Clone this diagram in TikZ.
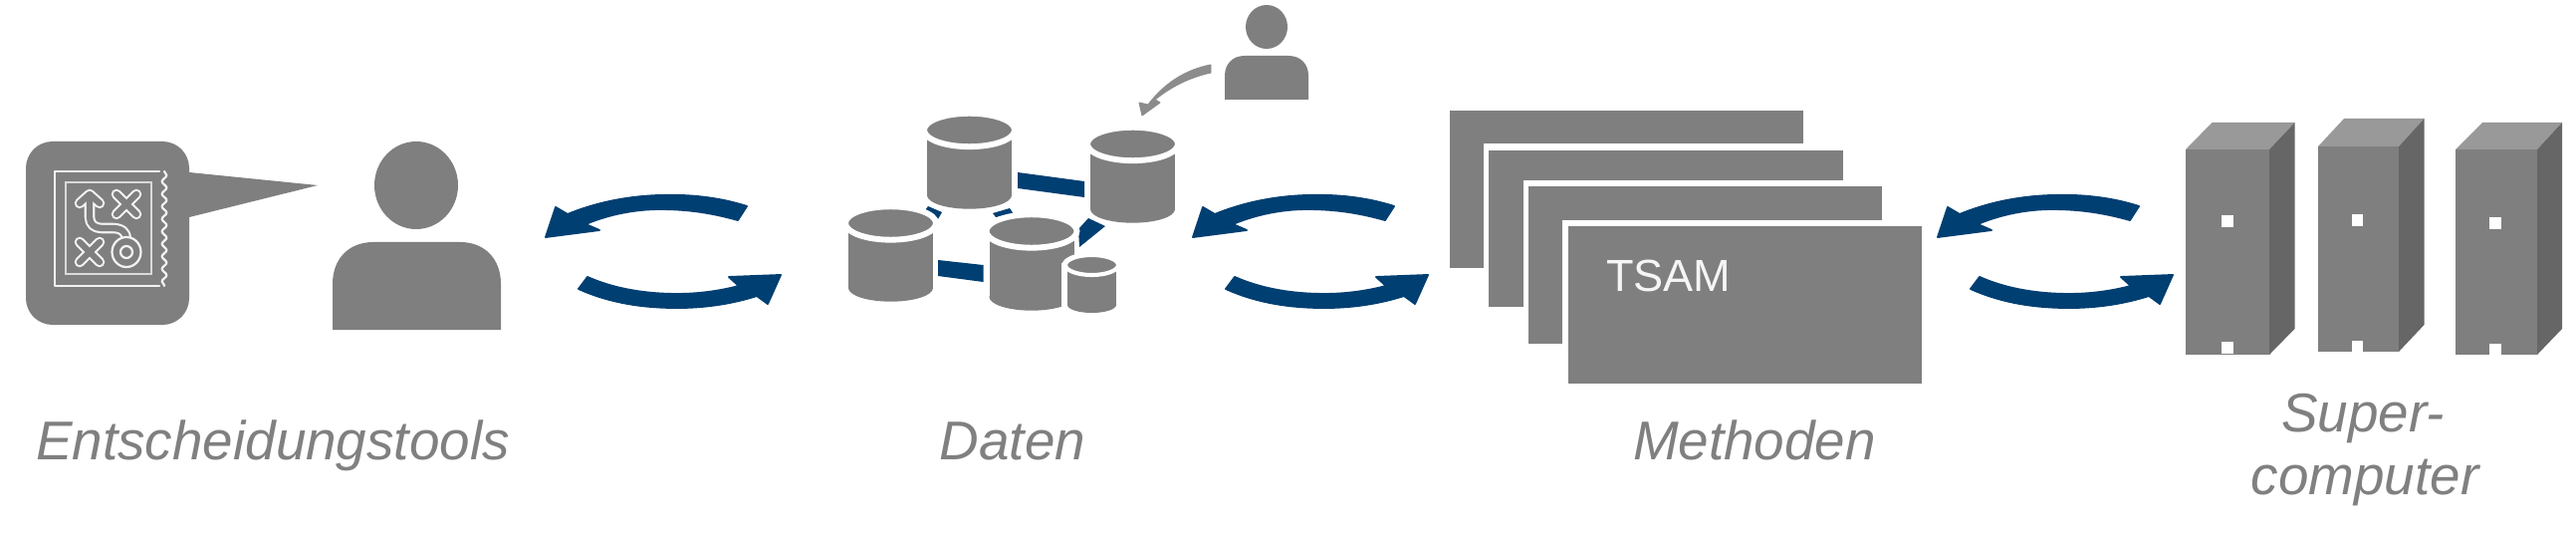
\documentclass[tikz,border=0pt]{standalone}
\usepackage{fontspec}
\setmainfont{Liberation Sans}
\usetikzlibrary{decorations.pathmorphing}
\definecolor{icongray}{HTML}{7F7F7F}
\definecolor{toplight}{HTML}{999999}
\definecolor{sidedark}{HTML}{666666}
\definecolor{flowblue}{HTML}{003F72}
\definecolor{labelgray}{HTML}{808080}
\definecolor{pointergray}{HTML}{8C8C8C}
\tikzset{
  icon/.style={fill=icongray,draw=none},
  flow/.style={fill=flowblue,draw=none},
  flowcurve/.style={fill=flowblue,draw=flowblue,line width=1.6pt,line join=round},
  lbl/.style={inner sep=0pt,anchor=base,text=labelgray,font=\fontsize{46.8}{56}\selectfont\itshape},
  halo/.style={fill=white,draw=none},
  stampline/.style={draw=white!90!icongray,line width=1.9pt,line cap=round,line join=round},
  stampfat/.style={draw=white!90!icongray,line width=9pt,line cap=round,line join=round},
  stampcore/.style={draw=icongray,line width=5.4pt,line cap=round,line join=round},
  arrowpair/.pic={
    \filldraw[flowcurve] (750,207) .. controls (722,198) and (692,195) .. (663,196)
      .. controls (628,197) and (597,204) .. (570,215) -- (558,208) -- (548,238)
      -- (602,231) -- (588,225) .. controls (612,215) and (638,210) .. (663,210)
      .. controls (692,210) and (716,214) .. (741,221) -- cycle;
    \filldraw[flowcurve] (590,278) .. controls (617,290) and (648,295) .. (680,295)
      .. controls (702,295) and (723,292) .. (742,287) -- (732,278) -- (784,276)
      -- (771,305) -- (760,297) .. controls (735,305) and (708,309) .. (680,309)
      .. controls (642,309) and (610,303) .. (581,290) -- cycle;
  }
}
% cx, lid centre y, rx, ry, bottom centre y
\newcommand{\dbicon}[5]{%
  \fill[icon] (#1-#3,#2) rectangle (#1+#3,#5);
  \fill[icon] (#1,#5) ellipse[x radius=#3,y radius=#4];
  \filldraw[fill=icongray,draw=white,line width=5pt] (#1,#2) ellipse[x radius=#3+3,y radius=#4+3];
}
% front x0,x1, top y, bottom y, back top y, back x1, dx
\newcommand{\server}[7]{%
  \fill[fill=toplight] (#1,#3) -- (#1+#7,#5) -- (#6,#5) -- (#2,#3) -- cycle;
  \fill[fill=sidedark] (#2,#3) -- (#6,#5) -- (#6,#5+207) -- (#2,#4) -- cycle;
  \fill[icon] (#1,#3) rectangle (#2,#4);
}
\newcommand{\slot}[2]{\fill[white] (#1-5.7,#2-6) rectangle (#1+5.7,#2+6);}
\begin{document}
\begin{tikzpicture}[x=0.03cm,y=-0.03cm]
\useasboundingbox (0,0) rectangle (2587,543);
\fill[white] (0,0) rectangle (2587,543);

% decision tool icon
\fill[icon] (190,173) -- (319,186) -- (190,218) -- cycle;
\fill[icon,rounded corners=0.8cm] (26,142) rectangle (190,326);
\draw[stampline] (160,172) -- (55,172) -- (55,287) -- (160,287);
\draw[stampline,decorate,decoration={snake,amplitude=2pt,segment length=10.7pt}] (165,172) -- (165,287);
\draw[draw=white!70!icongray,line width=2.2pt] (66,183) rectangle (152,275);
% ghosted strokes
\draw[stampfat] (80,204) -- (90,195) -- (100,204);
\draw[stampfat] (90,198) -- (90,218) .. controls (90,225) and (95,229) .. (102,229) -- (113,229) .. controls (122,229) and (127,233) .. (127,240);
\draw[stampfat] (117,195) -- (137,215) (137,195) -- (117,215);
\draw[stampfat] (80,243) -- (100,263) (100,243) -- (80,263);
\draw[stampcore] (80,204) -- (90,195) -- (100,204);
\draw[stampcore] (90,198) -- (90,218) .. controls (90,225) and (95,229) .. (102,229) -- (113,229) .. controls (122,229) and (127,233) .. (127,240);
\draw[stampcore] (117,195) -- (137,215) (137,195) -- (117,215);
\draw[stampcore] (80,243) -- (100,263) (100,243) -- (80,263);
\draw[stampline,fill=icongray] (127,253) ellipse[x radius=14.5,y radius=15];
\draw[stampline] (127,253) ellipse[x radius=6,y radius=6];

% main person
\fill[icon] (418,186) ellipse[x radius=42,y radius=44];
\fill[icon] (334,331) -- (334,285) .. controls (334,260) and (350,243) .. (375,243) -- (462,243)
  .. controls (487,243) and (503,260) .. (503,285) -- (503,331) -- cycle;

\pic (flowa) at (0,0) {arrowpair};
\pic (flowb) at (650,0) {arrowpair};
\pic (flowc) at (1398,0) {arrowpair};

% data links
\fill[flow] (1022,173) -- (1089,182) -- (1089,198) -- (1022,189) -- cycle;
\fill[flow] (942,261) -- (987.5,266) -- (987.5,283) -- (942,277) -- cycle;
\fill[flow] (932,207) -- (946,213) -- (942,220) -- (929,211) -- cycle;
\fill[flow] (997,214) -- (1014,209) -- (1018,215) -- (1000,218) -- cycle;
\fill[flow] (1093,219) -- (1110,227) -- (1084,248) -- (1083,230) -- cycle;

% databases
\dbicon{973.5}{130.5}{42.5}{13.7}{196}
\dbicon{1137.5}{144.5}{42.5}{13.7}{210}
\dbicon{894.5}{224}{42.5}{13.7}{289}
\dbicon{1036}{232}{42.5}{13.7}{298}
\fill[white] (1066,264) rectangle (1127,320);
\fill[white] (1096.5,266) ellipse[x radius=30,y radius=13];
\fill[icon] (1072,266) rectangle (1121,306);
\fill[icon] (1096.5,306) ellipse[x radius=24.5,y radius=8];
\filldraw[fill=icongray,draw=white,line width=3.5pt] (1096.5,266) ellipse[x radius=26.5,y radius=10];

% contributor
\fill[icon] (1272,27) ellipse[x radius=21,y radius=22];
\fill[icon] (1230,100) -- (1230,76) .. controls (1230,64) and (1238,56) .. (1250,56) -- (1294,56)
  .. controls (1306,56) and (1314,64) .. (1314,76) -- (1314,100) -- cycle;
\filldraw[fill=pointergray,draw=pointergray,line width=0.8pt,line join=round] (1216,65) .. controls (1190,70) and (1169,84) .. (1153,105) -- (1144,103) -- (1147,116) -- (1165,103) -- (1160,100)
  .. controls (1175,88) and (1193,78) .. (1216,73) -- cycle;

% method sheets
\fill[icon] (1456,111) rectangle (1811,269);
\fill[halo] (1490,144) rectangle (1856,312);
\fill[icon] (1495,151) rectangle (1851,308);
\fill[halo] (1530,181) rectangle (1895,350);
\fill[icon] (1535,187) rectangle (1890,345);
\fill[halo] (1569,221) rectangle (1935,390);
\fill[icon] (1575,227) rectangle (1930,385);
\node[inner sep=0pt,anchor=base west,text=white!92!icongray,font=\fontsize{38.5}{46}\selectfont] (tsam) at (1613,292) {TSAM};

% computers
\server{2195}{2279}{150}{356}{123}{2304.5}{26.5}
\slot{2237}{222}\slot{2237}{348.5}
\server{2328}{2409}{147}{353}{119}{2434.5}{26}
\slot{2367.5}{221}\slot{2367.5}{347.5}
\server{2466}{2548}{150}{356}{123}{2573}{27}
\slot{2506}{224}\slot{2506}{350.5}

% labels
\node[lbl] (lblent) at (274,461) {Entscheidungstools};
\node[lbl] (lbldat) at (1017,461) {Daten};
\node[lbl] (lblmet) at (1762,461) {Methoden};
\node[lbl] (lblsup) at (2373,433) {Super-};
\node[lbl] (lblcom) at (2375,496) {computer};
\end{tikzpicture}
\end{document}
